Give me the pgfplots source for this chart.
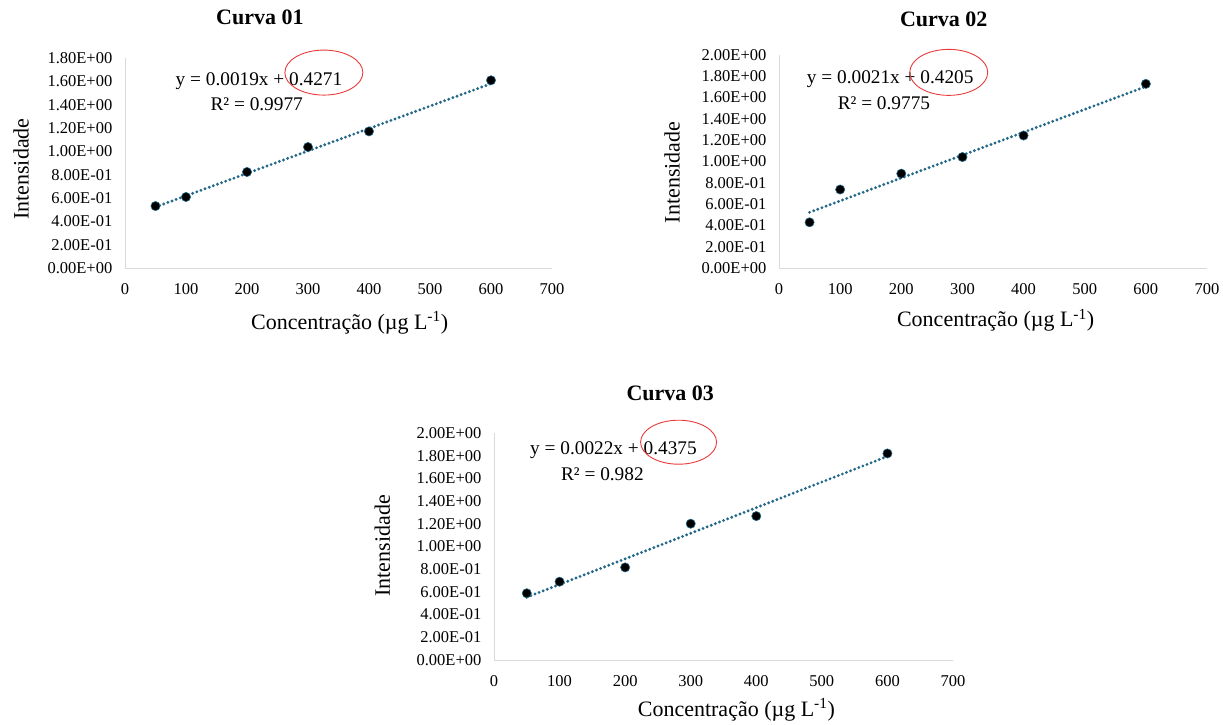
\documentclass[border=0pt]{standalone}
\usepackage{fontspec}
\setmainfont{Liberation Serif}
\usepackage{pgfplots}
\pgfplotsset{compat=1.18}
\definecolor{trend}{HTML}{24698A}
\definecolor{axgray}{HTML}{D9D9D9}
\definecolor{ellred}{HTML}{E83A3A}
\newcommand\ticksize{\fontsize{16.5}{19}\selectfont}
\newcommand\labelsize{\fontsize{22}{26}\selectfont}
\newcommand\titlesize{\fontsize{22}{26}\selectfont}
\newcommand\eqsize{\fontsize{19.3}{23}\selectfont}

\pgfplotstableread{
x y
50 0.531
100 0.609
200 0.823
300 1.037
400 1.171
600 1.609
}\dataA
\pgfplotstableread{
x y
50 0.429
100 0.737
200 0.886
300 1.042
400 1.244
600 1.729
}\dataB
\pgfplotstableread{
x y
50 0.588
100 0.690
200 0.816
300 1.201
400 1.268
600 1.820
}\dataC

\tikzset{ell/.style={ellred, line width=0.9pt}}

\pgfplotsset{
 panel/.style={
  scale only axis,
  axis lines=left,
  axis line style={axgray, line width=1pt, -},
  xmin=0, xmax=700, ymin=0,
  xtick={0,100,200,300,400,500,600,700},
  major tick length=0pt,
  tick style={draw=none},
  /pgf/number format/assume math mode=true,
  ticklabel style={font=\ticksize},
  xticklabel style={anchor=north, inner sep=0pt, yshift=-15pt},
  yticklabel style={anchor=east, inner sep=0pt, xshift=-12.5pt},
  label style={font=\labelsize},
  title style={font=\titlesize\bfseries, anchor=base, yshift=0pt},
  ylabel={Intensidade},
  xlabel={Concentração (µg L\textsuperscript{-1})},
  clip=false,
 },
 pts/.style={only marks, mark=*, mark size=4.6pt, mark options={fill=black, draw=trend, line width=0.6pt}},
 trl/.style={trend, line width=3.2pt, line cap=round, dash pattern=on 0pt off 4.4pt},
}

\begin{document}
\begin{tikzpicture}
\useasboundingbox (0pt,0pt) rectangle (1223pt,-724pt);

% Curva 01
\begin{axis}[panel,
  at={(125pt,-268pt)}, anchor=south west,
  width=427pt, height=210pt, ymax=1.8,
  ytick={0,0.2,0.4,0.6,0.8,1.0,1.2,1.4,1.6,1.8},
  yticklabels={0.00E+00,2.00E-01,4.00E-01,6.00E-01,8.00E-01,1.00E+00,1.20E+00,1.40E+00,1.60E+00,1.80E+00},
  title={Curva 01},
  title style={at={(axis description cs:0.316,1.130)}},
  ylabel style={at={(axis description cs:-0.2436,0.471)}, anchor=center},
  xlabel style={at={(axis description cs:0.526,0)}, anchor=base, yshift=-61pt},
]
\addplot[pts] table[x=x,y=y] {\dataA};
\addplot[trl] coordinates {(50,0.523) (600,1.58)};
\node[font=\eqsize, anchor=base] at (axis cs:219.6,1.568) {y = 0.0019x + 0.4271};
\node[font=\eqsize, anchor=base] at (axis cs:215.9,1.354) {R² = 0.9977};
\draw[ell] (axis cs:326,1.675) ellipse [x radius=39pt, y radius=22.5pt];
\end{axis}

% Curva 02
\begin{axis}[panel,
  at={(779pt,-268pt)}, anchor=south west,
  width=428pt, height=213pt, ymax=2.0,
  ytick={0,0.2,0.4,0.6,0.8,1.0,1.2,1.4,1.6,1.8,2.0},
  yticklabels={0.00E+00,2.00E-01,4.00E-01,6.00E-01,8.00E-01,1.00E+00,1.20E+00,1.40E+00,1.60E+00,1.80E+00,2.00E+00},
  title={Curva 02},
  title style={at={(axis description cs:0.385,1.108)}},
  ylabel style={at={(axis description cs:-0.25,0.449)}, anchor=center},
  xlabel style={at={(axis description cs:0.506,0)}, anchor=base, yshift=-58.6pt},
]
\addplot[pts] table[x=x,y=y] {\dataB};
\addplot[trl] coordinates {(50,0.523) (600,1.704)};
\node[font=\eqsize, anchor=base] at (axis cs:181.9,1.734) {y = 0.0021x + 0.4205};
\node[font=\eqsize, anchor=base] at (axis cs:171.6,1.485) {R² = 0.9775};
\draw[ell] (axis cs:277.6,1.837) ellipse [x radius=39pt, y radius=23pt];
\end{axis}

% Curva 03
\begin{axis}[panel,
  at={(494pt,-660pt)}, anchor=south west,
  width=459pt, height=227pt, ymax=2.0,
  ytick={0,0.2,0.4,0.6,0.8,1.0,1.2,1.4,1.6,1.8,2.0},
  yticklabels={0.00E+00,2.00E-01,4.00E-01,6.00E-01,8.00E-01,1.00E+00,1.20E+00,1.40E+00,1.60E+00,1.80E+00,2.00E+00},
  title={Curva 03},
  title style={at={(axis description cs:0.384,1.118)}},
  ylabel style={at={(axis description cs:-0.243,0.503)}, anchor=center},
  xlabel style={at={(axis description cs:0.528,0)}, anchor=base, yshift=-56pt},
]
\addplot[pts] table[x=x,y=y] {\dataC};
\addplot[trl] coordinates {(50,0.553) (600,1.794)};
\node[font=\eqsize, anchor=base] at (axis cs:182.2,1.811) {y = 0.0022x + 0.4375};
\node[font=\eqsize, anchor=base] at (axis cs:165.3,1.586) {R² = 0.982};
\draw[ell] (axis cs:281.5,1.919) ellipse [x radius=38pt, y radius=22pt];
\end{axis}
\end{tikzpicture}
\end{document}
